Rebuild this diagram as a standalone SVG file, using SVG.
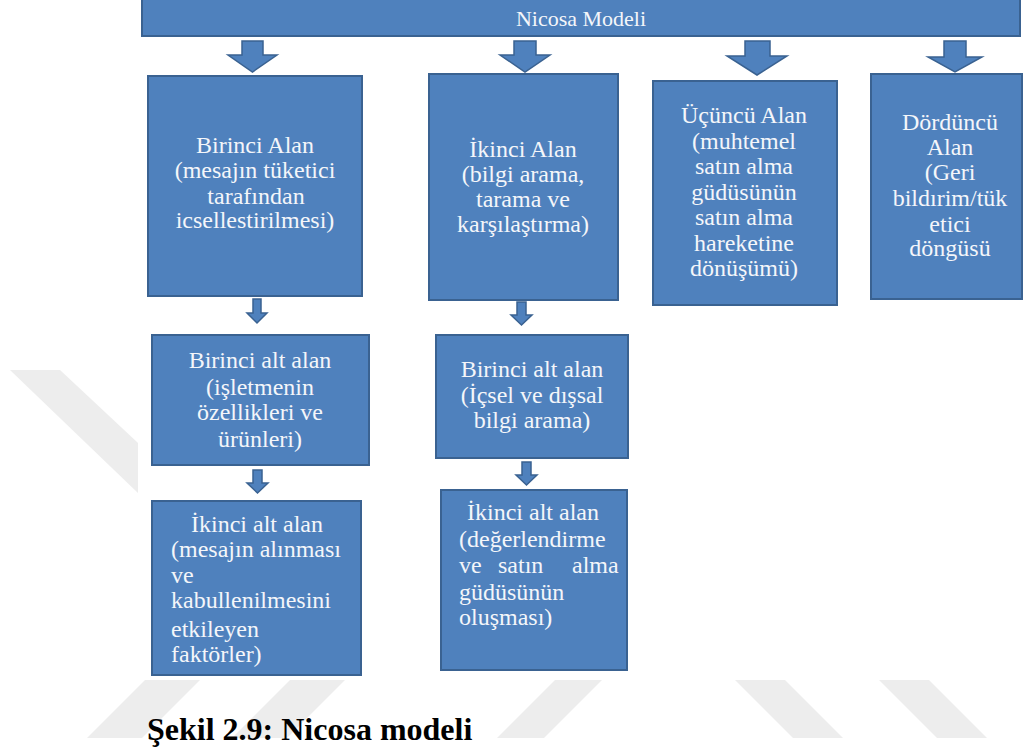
<svg xmlns="http://www.w3.org/2000/svg" width="1025" height="749" viewBox="0 0 1025 749">
<style>
.box{fill:#4F81BD;stroke:#3A6291;stroke-width:2}
.arr{fill:#4F81BD;stroke:#3A6291;stroke-width:1.5;stroke-linejoin:miter}
.t{font-family:'Liberation Serif','Times New Roman','DejaVu Serif',serif;font-size:24px;fill:#F4F6FA}
.c{text-anchor:middle}
.wm{fill:#EDEDED}
.cap{font-family:'Liberation Serif','Times New Roman','DejaVu Serif',serif;font-size:32px;font-weight:bold;fill:#000}
</style>
<rect x="0" y="0" width="1025" height="749" fill="#FFFFFF"/>
<g id="watermark">
<polygon class="wm" points="10,370 60,370 138,443 138,493"/>
<polygon class="wm" points="145,680 200,680 142,738 87,738"/>
<polygon class="wm" points="290,680 345,680 287,738 232,738"/>
<polygon class="wm" points="555,680 602,680 544,738 497,738"/>
<polygon class="wm" points="735,680 785,680 843,738 793,738"/>
<polygon class="wm" points="879,680 929,680 987,738 937,738"/>
</g>
<g id="connectors">
<polygon class="arr" points="242,41 263,41 263,55 277,55 252.5,72 228,55 242,55"/>
<polygon class="arr" points="514,41 536,41 536,55 550,55 525,72 500,55 514,55"/>
<polygon class="arr" points="745,41 770,41 770,56 787,56 757,75 727,56 745,56"/>
<polygon class="arr" points="944,41 966,41 966,57 982,57 955,72 928,57 944,57"/>
<polygon class="arr" points="253,299 261,299 261,313 267,313 257,323 247,313 253,313"/>
<polygon class="arr" points="253,470 262,470 262,483 268,483 257.5,493 247,483 253,483"/>
<polygon class="arr" points="517,302 526,302 526,315 532,315 521.5,325 511,315 517,315"/>
<polygon class="arr" points="522,462 531,462 531,475 537,475 526.5,485 516,475 522,475"/>
</g>
<g id="nicosa">
<rect class="box" x="142" y="-4" width="878" height="40"/>
<text class="t c" x="581" y="26" font-family="Liberation Serif, serif" style="font-size:22px">Nicosa Modeli</text>
</g>
<g id="birinci-alan" font-family="Liberation Serif, serif">
<rect class="box" x="148" y="76" width="214" height="220"/>
<text class="t c" x="255" y="153">Birinci Alan</text>
<text class="t c" x="255" y="178">(mesajın tüketici</text>
<text class="t c" x="256" y="204">tarafından</text>
<text class="t c" x="255" y="228">icsellestirilmesi)</text>
</g>
<g id="ikinci-alan">
<rect class="box" x="429" y="74" width="189" height="226"/>
<text class="t c" x="523" y="157">İkinci Alan</text>
<text class="t c" x="523" y="182">(bilgi arama,</text>
<text class="t c" x="523" y="207">tarama ve</text>
<text class="t c" x="523" y="232">karşılaştırma)</text>
</g>
<g id="ucuncu-alan">
<rect class="box" x="653" y="81" width="184" height="224"/>
<text class="t c" x="744" y="123">Üçüncü Alan</text>
<text class="t c" x="744" y="148.5">(muhtemel</text>
<text class="t c" x="744" y="174">satın alma</text>
<text class="t c" x="744" y="199.5">güdüsünün</text>
<text class="t c" x="744" y="225">satın alma</text>
<text class="t c" x="744" y="250.5">hareketine</text>
<text class="t c" x="744" y="276">dönüşümü)</text>
</g>
<g id="dorduncu-alan">
<rect class="box" x="871" y="74" width="151" height="225"/>
<text class="t c" x="950" y="130">Dördüncü</text>
<text class="t c" x="950" y="155">Alan</text>
<text class="t c" x="950" y="180">(Geri</text>
<text class="t c" x="950" y="206">bildırim/tük</text>
<text class="t c" x="950" y="232">etici</text>
<text class="t c" x="950" y="256">döngüsü</text>
</g>
<g id="birinci-alt-alan-1">
<rect class="box" x="152" y="335" width="217" height="130"/>
<text class="t c" x="260" y="368">Birinci alt alan</text>
<text class="t c" x="260" y="395">(işletmenin</text>
<text class="t c" x="260" y="420">özellikleri ve</text>
<text class="t c" x="260" y="447">ürünleri)</text>
</g>
<g id="ikinci-alt-alan-1">
<rect class="box" x="152" y="501" width="209" height="174"/>
<text class="t c" x="257" y="532">İkinci alt alan</text>
<text class="t" x="171" y="557">(mesajın alınması</text>
<text class="t" x="171" y="583">ve</text>
<text class="t" x="171" y="608">kabullenilmesini</text>
<text class="t" x="171" y="637">etkileyen</text>
<text class="t" x="171" y="662">faktörler)</text>
</g>
<g id="birinci-alt-alan-2">
<rect class="box" x="436" y="335" width="192" height="123"/>
<text class="t c" x="532" y="377">Birinci alt alan</text>
<text class="t c" x="532" y="403">(İçsel ve dışsal</text>
<text class="t c" x="532" y="428">bilgi arama)</text>
</g>
<g id="ikinci-alt-alan-2">
<rect class="box" x="441" y="490" width="186" height="180"/>
<text class="t c" x="533" y="520">İkinci alt alan</text>
<text class="t" x="459" y="547">(değerlendirme</text>
<text class="t" y="573"><tspan x="459">ve</tspan><tspan x="498">satın</tspan><tspan x="572">alma</tspan></text>
<text class="t" x="459" y="600">güdüsünün</text>
<text class="t" x="459" y="625">oluşması)</text>
</g>
<text class="cap" x="147" y="740">Şekil 2.9: Nicosa modeli</text>
</svg>
